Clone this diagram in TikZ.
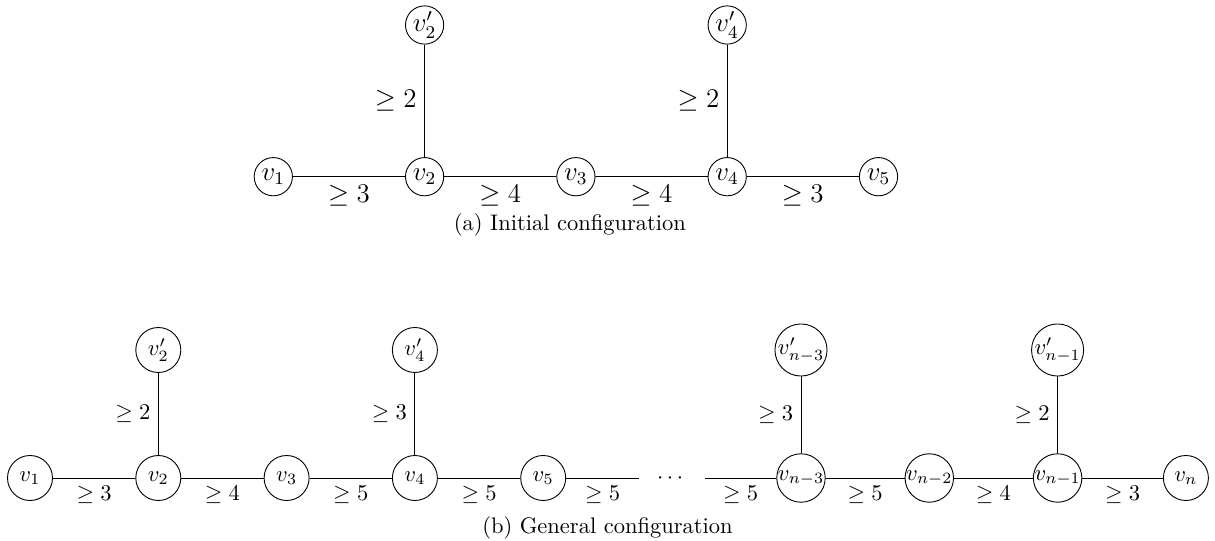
\documentclass[tikz,border=0pt]{standalone}
\usepackage{amsmath, amssymb}
\usepackage{tikz}

\tikzset{
  vtxa/.style={draw, circle, inner sep=0pt, minimum size=17pt, font=\large},
  vtxb/.style={draw, circle, inner sep=0pt, minimum size=20pt},
  wlbl/.style={font=\large},
}

\begin{document}
\begin{tikzpicture}[x=0.4444pt, y=-0.4444pt]
  \useasboundingbox (0,0) rectangle (1215,541);

  % (a) spacing and rows
  \def\da{151.3}
  \def\ya{176.7}
  \def\yap{25}

  % Path v_1 ... v_5
  \foreach \i in {1,...,5} {
    \pgfmathsetmacro\x{273.3 + (\i-1)*\da}
    \node[vtxa] (a\i) at (\x,\ya) {$v_{\i}$};
  }
  % Pendant vertices
  \node[vtxa] (a2p) at (273.3+\da,\yap) {$v'_2$};
  \node[vtxa] (a4p) at (273.3+3*\da,\yap) {$v'_4$};

  % Edges with lower bounds
  \foreach \i/\j/\w in {1/2/3, 2/3/4, 3/4/4, 4/5/3} {
    \draw (a\i) -- node[below, wlbl] {$\geq \w$} (a\j);
  }
  \draw (a2) -- node[left, wlbl] {$\geq 2$} (a2p);
  \draw (a4) -- node[left, wlbl] {$\geq 2$} (a4p);

  \node (capa) at (570,225) {(a) Initial configuration};

  % (b) spacing and rows
  \def\db{128.3}
  \def\yb{478}
  \def\ybp{350}

  % Left part v_1 ... v_5
  \foreach \i in {1,...,5} {
    \pgfmathsetmacro\x{30 + (\i-1)*\db}
    \node[vtxb] (b\i) at (\x,\yb) {$v_{\i}$};
  }
  % Dots in the middle
  \node[inner sep=0pt, minimum width=29pt] (dots) at (672,\yb) {$\cdots$};
  % Right part v_{n-3} ... v_n
  \node[vtxb] (bn3) at (801,\yb) {$v_{n-3}$};
  \node[vtxb] (bn2) at (801+\db,\yb) {$v_{n-2}$};
  \node[vtxb] (bn1) at (801+2*\db,\yb) {$v_{n-1}$};
  \node[vtxb] (bn) at (801+3*\db,\yb) {$v_{n}$};
  % Pendant vertices
  \node[vtxb] (b2p) at (30+\db,\ybp) {$v'_2$};
  \node[vtxb] (b4p) at (30+3*\db,\ybp) {$v'_4$};
  \node[vtxb] (bn3p) at (801,\ybp) {$v'_{n-3}$};
  \node[vtxb] (bn1p) at (801+2*\db,\ybp) {$v'_{n-1}$};

  % Edges with lower bounds
  \foreach \u/\v/\w in {b1/b2/3, b2/b3/4, b3/b4/5, b4/b5/5, b5/dots/5,
                        dots/bn3/5, bn3/bn2/5, bn2/bn1/4, bn1/bn/3} {
    \draw (\u) -- node[below] {$\geq \w$} (\v);
  }
  \foreach \u/\w in {b2/2, b4/3, bn3/3, bn1/2} {
    \draw (\u) -- node[left] {$\geq \w$} (\u p);
  }

  \node (capb) at (607.5,527.5) {(b) General configuration};

\end{tikzpicture}
\end{document}
